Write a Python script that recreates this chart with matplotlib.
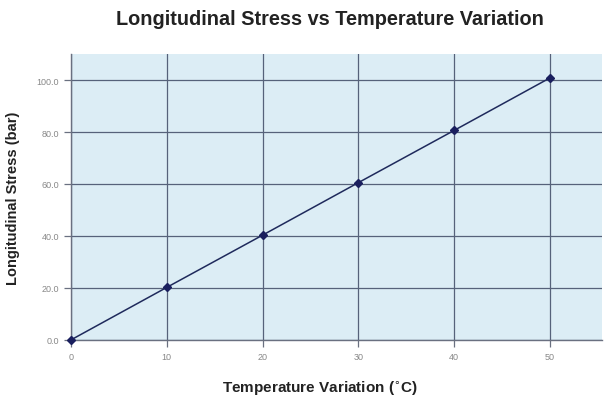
import matplotlib
matplotlib.use("Agg")
import matplotlib.pyplot as plt

temperature = [0, 10, 20, 30, 40, 50]
stress = [0.0, 20.2, 40.3, 60.5, 80.6, 100.8]
x_ticks = [0, 10, 20, 30, 40, 50]
y_ticks = [0, 20, 40, 60, 80, 100]
y_tick_labels = ["0.0", "20.0", "40.0", "60.0", "80.0", "100.0"]

plt.rcParams['font.family'] = ['Liberation Sans', 'DejaVu Sans']

fig = plt.figure(figsize=(6.04, 4.02), dpi=100)
ax = fig.add_axes([0.1175, 0.152, 0.88, 0.711])
ax.set_facecolor('#dcedf5')
ax.plot(temperature, stress, color='#1f2a5c', lw=1.1, marker='D', ms=4,
        markerfacecolor='#1a1f5e', markeredgecolor='#1a1f5e', zorder=3, clip_on=False)
ax.set_xlim(0, 55.5)
ax.set_ylim(0, 110)
ax.set_xticks(x_ticks)
ax.set_yticks(y_ticks)
ax.set_yticklabels(y_tick_labels)
ax.grid(True, color='#56627a', lw=0.9)
ax.set_axisbelow(True)
for s in ['top', 'right']:
    ax.spines[s].set_visible(False)
for s in ['left', 'bottom']:
    ax.spines[s].set_color('#6a7080')
    ax.spines[s].set_linewidth(1.0)
ax.tick_params(axis='both', colors='#6a7080', labelcolor='#888888', labelsize=6.5, length=5, width=0.9)
ax.set_xlabel('Temperature Variation ($^{\\circ}$C)', fontsize=11, fontweight='bold', color='#222222', labelpad=10)
ax.xaxis.set_label_coords(0.468, -0.135)
ax.set_ylabel('Longitudinal Stress (bar)', fontsize=10.5, fontweight='bold', color='#222222', labelpad=12)
fig.text(0.546, 0.952, 'Longitudinal Stress vs Temperature Variation', ha='center', va='center',
         fontsize=14.3, fontweight='bold', color='#222222')
fig.savefig('out.png', dpi=100)
